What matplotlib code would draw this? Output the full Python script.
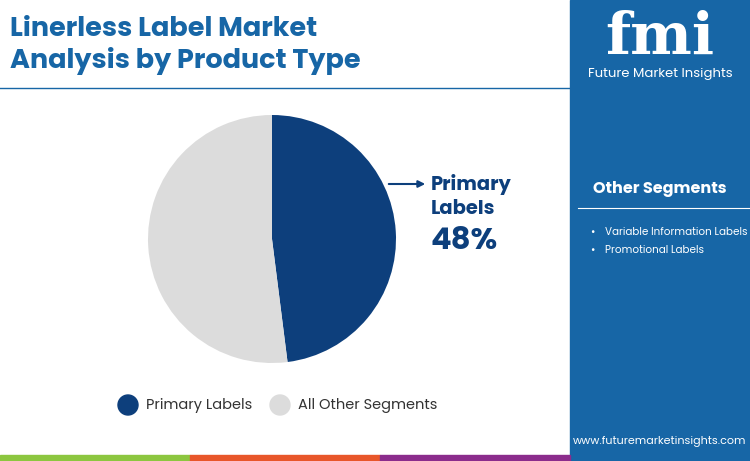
import matplotlib.pyplot as plt
from matplotlib.patches import Rectangle

W, H = 750, 461
segments = ["Primary Labels", "All Other Segments"]
shares = [48, 52]
colors = ["#0d3f7c", "#dcdcdc"]
other_segments = ["Variable Information Labels", "Promotional Labels"]

plt.rcParams['font.family'] = ['Poppins', 'Roboto', 'DejaVu Sans']

fig = plt.figure(figsize=(W / 100, H / 100), dpi=100)
bg = fig.add_axes([0, 0, 1, 1])
bg.set_xlim(0, W)
bg.set_ylim(H, 0)
bg.axis("off")

# right panel
bg.add_patch(Rectangle((570, 0), 180, 461, color="#1766a6"))
# bottom stripes
for x0, c in [(0, "#8cc63f"), (190, "#e8562a"), (380, "#8b2c8c")]:
    bg.add_patch(Rectangle((x0, 455), 190, 6, color=c))
# title underline
bg.plot([0, 570], [88, 88], color="#1766a6", lw=1)

bg.text(10, 30, "Linerless Label Market", fontsize=19.5, fontweight="bold",
        color="#1766a6", va="center")
bg.text(10, 61, "Analysis by Product Type", fontsize=19.5, fontweight="bold",
        color="#1766a6", va="center")

# logo
bg.text(660, 38, "fmi", fontsize=42, fontweight="bold", color="white",
        ha="center", va="center", family="DejaVu Serif")
bg.text(660, 74, "Future Market Insights", fontsize=9.5, color="white",
        ha="center", va="center")

bg.text(660, 189, "Other Segments", fontsize=11.5, fontweight="bold",
        color="white", ha="center", va="center")
bg.plot([578, 750], [208, 208], color="white", lw=0.8)
for i, s in enumerate(other_segments):
    y = 232 + i * 18
    bg.text(590, y, "\u2022", fontsize=7.5, color="white", va="center")
    bg.text(605, y, s, fontsize=7.5, color="white", va="center")
bg.text(660, 441, "www.futuremarketinsights.com", fontsize=8, color="white",
        ha="center", va="center")

# pie
r = 124
ax = fig.add_axes([(272 - r) / W, 1 - (239 + r) / H, 2 * r / W, 2 * r / H])
ax.pie(shares, colors=colors, startangle=90, counterclock=False)
ax.set_aspect("auto")
ax.set_xlim(-1, 1)
ax.set_ylim(-1, 1)

bg.annotate("", xy=(428, 184), xytext=(386, 184),
            arrowprops=dict(arrowstyle="-|>", color="#0d3f7c", lw=1.5))
bg.text(431, 184, "Primary", fontsize=14, fontweight="bold", color="#0d3f7c", va="center")
bg.text(431, 209, "Labels", fontsize=14, fontweight="bold", color="#0d3f7c", va="center")
bg.text(431, 242, f"{shares[0]}%", fontsize=22, fontweight="bold", color="#0d3f7c", va="center")

# legend
for x0, lab, c in [(128, segments[0], colors[0]), (280, segments[1], colors[1])]:
    bg.add_patch(plt.Circle((x0, 405), 10, color=c))
    bg.text(x0 + 18, 405, lab, fontsize=10.5, color="#333333", va="center")

fig.savefig("out.png", dpi=100)
